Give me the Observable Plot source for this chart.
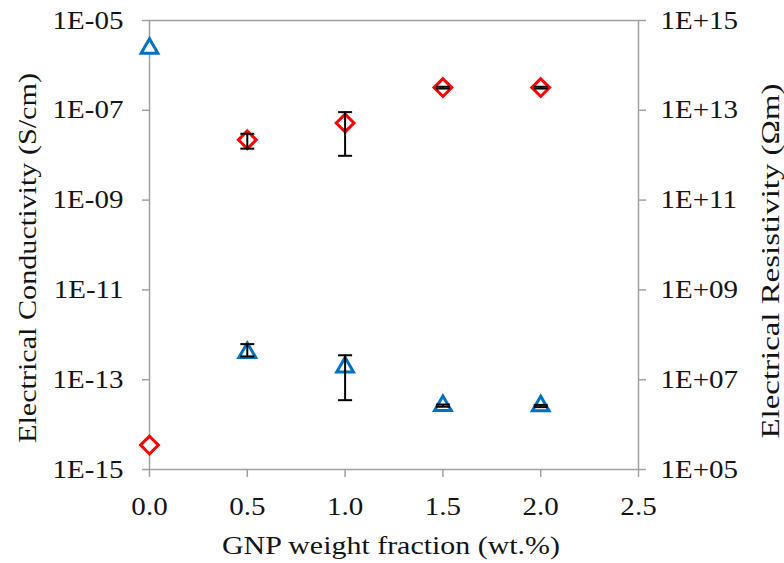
<!DOCTYPE html>
<html><head><meta charset="utf-8">
<script src="https://cdn.jsdelivr.net/npm/d3@7"></script>
<script src="https://cdn.jsdelivr.net/npm/@observablehq/plot@0.6"></script>
<style>
body{margin:0;background:#fff;}
#chart{position:relative;width:784px;height:563px;}
#chart svg{position:absolute;left:0;top:0;}
</style></head><body><div id="chart"></div>
<script>
// ---- data ----
const weightFraction = [0, 0.5, 1.0, 1.5, 2.0];
const conductivity = [3.5e-15, 2.2e-8, 5.2e-8, 3.2e-7, 3.2e-7];
const conductivityLow = [null, 1.4e-8, 9.7e-9, 3.05e-7, 3.05e-7];
const conductivityHigh = [null, 3.0e-8, 9.1e-8, 3.35e-7, 3.35e-7];
const resistivity = [2.4e14, 4.0e7, 1.9e7, 2.65e6, 2.6e6];
const resistivityLow = [null, 3.3e7, 3.5e6, 2.5e6, 2.45e6];
const resistivityHigh = [null, 6.2e7, 3.5e7, 2.8e6, 2.75e6];
const xTickLabels = ["0.0", "0.5", "1.0", "1.5", "2.0", "2.5"];
const leftTickLabels = ["1E-15", "1E-13", "1E-11", "1E-09", "1E-07", "1E-05"];
const rightTickLabels = ["1E+05", "1E+07", "1E+09", "1E+11", "1E+13", "1E+15"];
const xLabel = "GNP weight fraction (wt.%)";
const leftLabel = "Electrical Conductivity (S/cm)";
const rightLabel = "Electrical Resistivity (Ωm)";

// ---- styles ----
const W = 784, H = 563;
const margins = {marginLeft: 149, marginRight: 146, marginTop: 20, marginBottom: 94};
const axisGray = "#a0a0a0";
const textColor = "#141414";
const red = "#ff0000", blue = "#0070c0";
const font = {fontFamily: "'Liberation Serif', 'Times New Roman', serif", fontSize: "25px"};

const condRows = weightFraction.map((x, i) => ({x, v: conductivity[i], lo: conductivityLow[i], hi: conductivityHigh[i]}));
const resRows = weightFraction.map((x, i) => ({x, v: resistivity[i], lo: resistivityLow[i], hi: resistivityHigh[i]}));
const condErr = condRows.filter(d => d.lo != null);
const resErr = resRows.filter(d => d.lo != null);

const xTicks = xTickLabels.map(Number);
const xFmt = new Map(xTicks.map((v, i) => [v, xTickLabels[i]]));
const lTicks = leftTickLabels.map(Number);
const lFmt = new Map(lTicks.map((v, i) => [v, leftTickLabels[i]]));
const rTicks = rightTickLabels.map(Number);
const rFmt = new Map(rTicks.map((v, i) => [v, rightTickLabels[i]]));

const capSymbol = {draw(ctx) { ctx.moveTo(-7, 0); ctx.lineTo(7, 0); }};

function errorMarks(rows) {
  return [
    Plot.ruleX(rows, {x: "x", y1: "lo", y2: "hi", stroke: "#000", strokeWidth: 2}),
    Plot.dot(rows, {x: "x", y: "lo", symbol: capSymbol, r: 5, stroke: "#000", strokeWidth: 2, fill: "none"}),
    Plot.dot(rows, {x: "x", y: "hi", symbol: capSymbol, r: 5, stroke: "#000", strokeWidth: 2, fill: "none"})
  ];
}

const left = Plot.plot({
  width: W, height: H, ...margins,
  style: {...font, background: "white", color: textColor},
  x: {domain: [0, 2.5], axis: null},
  y: {type: "log", domain: [1e-15, 1e-5], axis: null},
  marks: [
    Plot.frame({stroke: axisGray, strokeWidth: 1.5}),
    Plot.axisX({ticks: xTicks, tickFormat: d => xFmt.get(d), tickSize: 8, tickPadding: 20, stroke: axisGray, fill: textColor, strokeWidth: 1.5, label: null}),
    Plot.axisY({ticks: lTicks, tickFormat: d => lFmt.get(d), tickSize: 7, tickPadding: 19, stroke: axisGray, fill: textColor, strokeWidth: 1.5, label: null}),
    Plot.text([xLabel], {text: d => d, frameAnchor: "bottom", dy: 76, dx: -3, textAnchor: "middle", lineAnchor: "middle", fill: textColor, className: "title-x"}),
    Plot.text([leftLabel], {text: d => d, frameAnchor: "left", rotate: -90, dx: -122, dy: 13, textAnchor: "middle", lineAnchor: "middle", fill: textColor, className: "title-l"}),
    Plot.dot(condRows, {x: "x", y: "v", symbol: "diamond2", r: 8, stroke: red, strokeWidth: 3, fill: "white"}),
    ...errorMarks(condErr)
  ]
});

const right = Plot.plot({
  width: W, height: H, ...margins,
  style: {...font, background: "none", color: textColor},
  x: {domain: [0, 2.5], axis: null},
  y: {type: "log", domain: [1e5, 1e15], axis: null},
  marks: [
    Plot.axisY({anchor: "right", ticks: rTicks, tickFormat: d => rFmt.get(d), tickSize: 7, tickPadding: 15, stroke: axisGray, fill: textColor, strokeWidth: 1.5, label: null}),
    Plot.text([rightLabel], {text: d => d, frameAnchor: "right", rotate: -90, dx: 132, dy: 16, textAnchor: "middle", lineAnchor: "middle", fill: textColor, className: "title-r"}),
    Plot.dot(resRows, {x: "x", y: "v", symbol: "triangle2", r: 8, stroke: blue, strokeWidth: 3, fill: "white"}),
    ...errorMarks(resErr)
  ]
});

const chart = document.getElementById("chart");
chart.appendChild(left);
chart.appendChild(right);

// Widen glyphs to match the reference's wide serif rendering
const titleLengths = {"title-x": 338, "title-l": 370, "title-r": 355};
for (const t of chart.querySelectorAll("svg text")) {
  const L = t.getComputedTextLength();
  if (!(L > 0)) continue;
  const g = t.closest("g");
  const cls = g ? Object.keys(titleLengths).find(c => g.classList.contains(c)) : null;
  t.setAttribute("textLength", (cls ? titleLengths[cls] : L * 1.16).toFixed(1));
  t.setAttribute("lengthAdjust", "spacingAndGlyphs");
}
</script></body></html>
